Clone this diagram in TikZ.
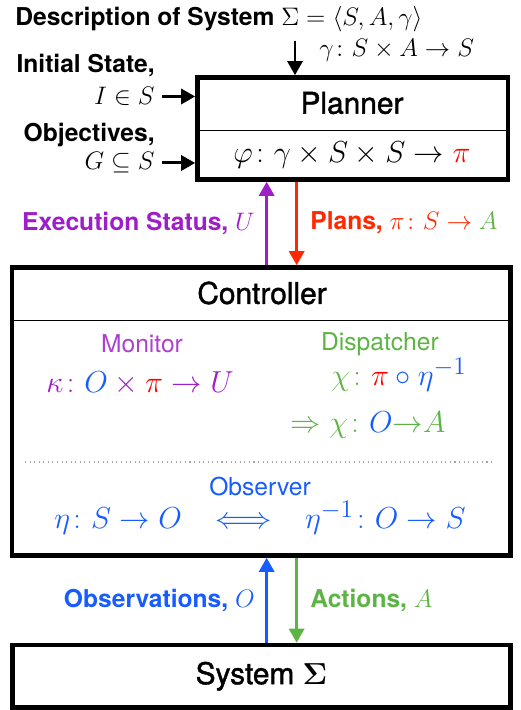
\documentclass[tikz,border=0pt]{standalone}
\usepackage{amsmath,amssymb}
\usepackage{fontspec}
\setmainfont{TeX Gyre Heros}
\newfontfamily\titlefont[FakeBold=1.4]{TeX Gyre Heros}
\usetikzlibrary{arrows.meta}

\definecolor{statpurple}{RGB}{158,30,200}
\definecolor{planred}{RGB}{255,40,0}
\definecolor{actgreen}{RGB}{92,180,68}
\definecolor{obsblue}{RGB}{22,92,255}

\begin{document}
\begin{tikzpicture}

    % --- Grundeinstellungen für Styles ---
    \tikzset{
        % Rahmen der Blöcke
        block/.style={
            draw,
            line width=2.6pt,
            inner sep=0pt
        },
        blocktitle/.style={
            font=\fontsize{17}{20}\titlefont
        },
        blockmath/.style={
            font=\fontsize{19}{22}\selectfont
        },
        sublabel/.style={
            font=\fontsize{14}{17}\selectfont
        },
        % Beschriftungen außerhalb der Blöcke
        labeltext/.style={
            font=\fontsize{14}{17}\selectfont\bfseries,
            inner sep=0pt
        },
        labelmath/.style={
            font=\fontsize{15.5}{18}\selectfont,
            inner sep=4pt
        },
        % Pfeile zwischen den Blöcken
        flow/.style={
            line width=1.7pt,
            -{Triangle[length=2.8mm, width=3mm]}
        }
    }

    \useasboundingbox (0,0) rectangle (10.42,14.2);

    % --- 1. Blöcke ---

    % Planner
    \node[block, minimum width=6.21cm, minimum height=2.04cm] (planner) at (7.055, 11.63) {};
    \node[blocktitle] (plannertitle) at (7.04, 12.14) {Planner};
    \draw[line width=0.5pt] (3.95, 11.59) -- (10.16, 11.59);
    \node[blockmath] (plannermap) at (7.04, 11.10) {$\varphi\colon \gamma\times S\times S\to \textcolor{red}{\pi}$};

    % Controller
    \node[block, minimum width=9.97cm, minimum height=5.76cm] (controller) at (5.225, 5.97) {};
    \node[blocktitle] (controllertitle) at (5.24, 8.34) {Controller};
    \draw[line width=0.5pt] (0.24, 7.79) -- (10.21, 7.79);

    % Monitor und Dispatcher
    \node[sublabel, text=statpurple!85] (monitor) at (2.84, 7.32) {Monitor};
    \node[blockmath, text=statpurple] (monitormap) at (2.80, 6.54) {$\kappa\colon \textcolor{obsblue}{O}\times\textcolor{red}{\pi}\to U$};
    \node[sublabel, text=actgreen] (dispatcher) at (7.60, 7.32) {Dispatcher};
    \node[blockmath, text=actgreen] (dispatchmap) at (7.98, 6.70) {$\chi\colon \textcolor{red}{\pi}\mathbin{\color{obsblue}\circ}\textcolor{obsblue}{\eta^{-1}}$};
    \node[blockmath, text=actgreen] (dispatchobs) at (7.36, 5.70) {$\Rightarrow \chi\colon \textcolor{obsblue}{O}{\to}A$};

    % Observer (unter der gepunkteten Linie)
    \draw[dotted, gray!70, line width=0.6pt] (0.5, 4.96) -- (9.9, 4.96);
    \node[sublabel, text=obsblue] (observer) at (5.20, 4.46) {Observer};
    \node[blockmath, text=obsblue] (observermap) at (5.20, 3.84) {$\eta\colon S\to O \;\;\iff\;\; \eta^{-1}\colon O\to S$};

    % System
    \node[block, blocktitle, minimum width=9.96cm, minimum height=1.25cm] (system) at (5.23, 0.675) {System $\boldsymbol{\Sigma}$};

    % --- 2. Eingaben des Planners ---

    \node[labeltext, anchor=west] (desc) at (0.30, 13.82) {Description of System $\Sigma=\langle S,A,\gamma\rangle$};
    \node[labelmath, anchor=west, inner sep=0pt] (transition) at (6.38, 13.20) {$\gamma\colon S\times A\to S$};
    \coordinate (descin) at (5.90, 13.38);

    \node[labeltext, anchor=east] (initlabel) at (3.10, 12.90) {Initial State,};
    \node[labelmath, anchor=east] (init) at (3.24, 12.27) {$I\in S$};

    \node[labeltext, anchor=east] (goallabel) at (3.10, 11.50) {Objectives,};
    \node[labelmath, anchor=east] (goal) at (3.24, 10.94) {$G\subseteq S$};

    \draw[flow, line width=1.5pt] (descin) -- (descin |- planner.north);
    \draw[flow] (init.east) -- (init.east -| planner.west);
    \draw[flow] (goal.east) -- (goal.east -| planner.west);

    % --- 3. Pfeile zwischen den Blöcken ---

    \coordinate (upx) at (5.333, 0);
    \coordinate (downx) at (5.933, 0);

    \node[labeltext, anchor=east, text=statpurple] (status) at (5.10, 9.74) {Execution Status, $U$};
    \node[labeltext, anchor=west, text=planred] (plans) at (6.20, 9.74) {Plans, $\pi\colon S\to\textcolor{actgreen}{A}$};

    \draw[flow, statpurple] (controller.north -| upx) -- (planner.south -| upx);
    \draw[flow, planred] (planner.south -| downx) -- (controller.north -| downx);

    \node[labeltext, anchor=east, text=obsblue] (observations) at (5.10, 2.20) {Observations, $O$};
    \node[labeltext, anchor=west, text=actgreen] (actions) at (6.20, 2.20) {Actions, $A$};

    \draw[flow, obsblue] (system.north -| upx) -- (controller.south -| upx);
    \draw[flow, actgreen] (controller.south -| downx) -- (system.north -| downx);

\end{tikzpicture}
\end{document}
